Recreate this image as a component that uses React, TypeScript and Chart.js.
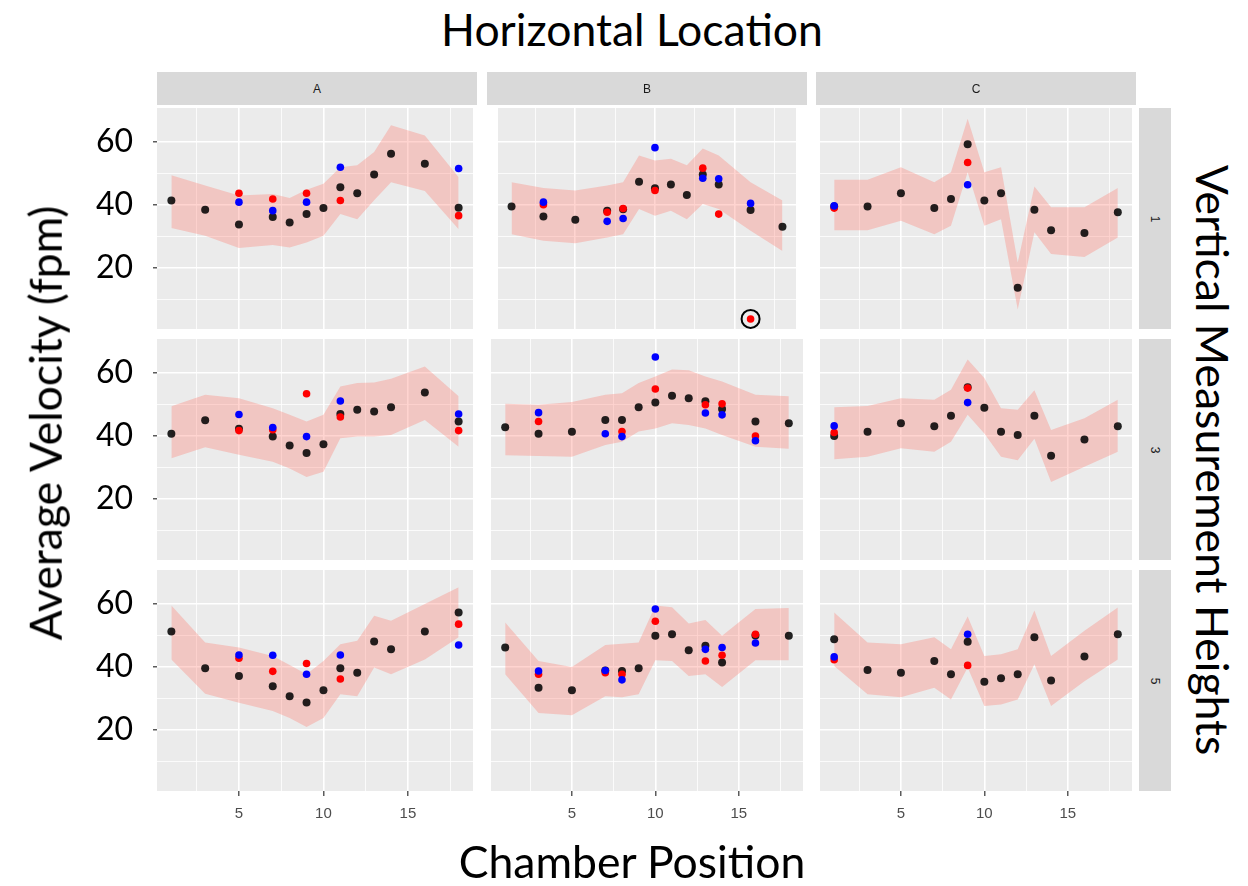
import React, { useEffect, useRef } from 'react';
import { Chart, registerables } from 'chart.js';

Chart.register(...registerables);

// ---------- data ----------
const positions = [1, 3, 5, 7, 8, 9, 10, 11, 12, 13, 14, 16, 18];
const columnLabels = ['A', 'B', 'C'];
const rowLabels = ['1', '3', '5'];
const yTickValues = [20, 40, 60];
const yMinorValues = [10, 30, 50];
const xTickValues = [5, 10, 15];
const xMinorValues = [2.5, 7.5, 12.5, 17.5];

// Height 1
const meanA1 = [41.4, 38.5, 33.8, 36.2, 34.4, 37.1, 39.0, 45.6, 43.7, 49.7, 56.3, 53.1, 39.1];
const lowA1 = [32.7, 30.2, 26.3, 27.3, 26.5, 28.1, 30.2, 37.1, 35.5, 41.5, 47.2, 44.4, 32.3];
const highA1 = [49.4, 46.2, 43.0, 43.5, 42.2, 44.8, 46.7, 52.0, 52.6, 56.8, 65.3, 62.1, 48.8];
const redA1 = [null, null, 43.7, 41.9, null, 43.7, null, 41.4, null, null, null, null, 36.6];
const blueA1 = [null, null, 40.9, 38.2, null, 40.9, null, 52.0, null, null, null, null, 51.6];

const meanB1 = [39.5, 36.3, 35.3, 38.2, 38.6, 47.4, 45.3, 46.5, 43.2, 49.7, 46.5, 38.4, 33.1];
const lowB1 = [30.7, 28.6, 27.8, 29.7, 30.7, 38.7, 36.6, 38.2, 35.5, 40.3, 38.7, 31.8, 25.4];
const highB1 = [47.2, 45.4, 44.6, 46.2, 47.2, 55.7, 54.1, 54.7, 52.6, 57.9, 55.7, 47.2, 41.4];
const redB1 = [null, 40.1, null, 37.7, 38.9, null, 44.6, null, null, 51.7, 37.1, 3.8, null];
const blueB1 = [null, 40.9, null, 34.8, 35.7, null, 58.2, null, null, 48.5, 48.3, 40.5, null];
const circledB1 = [null, null, null, null, null, null, null, null, null, null, null, 3.8, null];

const meanC1 = [39.5, 39.5, 43.7, 39.0, 41.9, 59.3, 41.4, 43.7, 13.7, 38.5, 32.0, 31.1, 37.7];
const lowC1 = [32.0, 32.0, 35.0, 30.7, 33.4, 50.4, 33.4, 35.5, 6.8, 31.3, 24.4, 23.5, 29.7];
const highC1 = [48.0, 48.0, 52.0, 47.2, 50.4, 67.4, 50.4, 52.0, 21.7, 45.9, 39.3, 39.3, 45.4];
const redC1 = [39.0, null, null, null, null, 53.5, null, null, null, null, null, null, null];
const blueC1 = [39.7, null, null, null, null, 46.4, null, null, null, null, null, null, null];

// Height 3
const meanA3 = [40.7, 45.0, 42.3, 39.8, 37.0, 34.6, 37.4, 47.0, 48.3, 47.8, 49.1, 53.8, 44.6];
const lowA3 = [32.9, 36.4, 34.0, 31.8, 29.7, 27.0, 28.6, 39.3, 39.8, 39.8, 40.3, 45.1, 36.6];
const highA3 = [49.4, 53.1, 52.0, 48.8, 46.7, 44.6, 46.7, 55.7, 56.8, 57.0, 58.2, 62.1, 52.6];
const redA3 = [null, null, 41.7, 42.0, null, 53.4, null, 46.0, null, null, null, null, 41.7];
const blueA3 = [null, null, 46.8, 42.7, null, 39.8, null, 51.1, null, null, null, null, 47.0];

const meanB3 = [42.8, 40.7, 41.3, 45.1, 45.1, 49.1, 50.6, 52.8, 52.0, 51.0, 48.6, 44.6, 44.0];
const lowB3 = [33.9, 33.6, 33.4, 37.1, 38.2, 41.4, 42.4, 44.0, 43.5, 42.4, 40.3, 36.6, 35.9];
const highB3 = [50.2, 49.9, 50.8, 53.1, 53.6, 56.8, 58.9, 61.1, 60.9, 58.9, 57.3, 53.1, 52.6];
const redB3 = [null, 44.6, null, null, 41.4, null, 54.9, null, null, 49.9, 50.2, 40.0, null];
const blueB3 = [null, 47.4, null, 40.7, 39.8, null, 65.1, null, null, 47.3, 46.7, 38.5, null];

const meanC3 = [40.0, 41.3, 44.0, 43.1, 46.4, 55.5, 49.0, 41.3, 40.3, 46.4, 33.7, 38.9, 43.1];
const lowC3 = [32.6, 33.4, 36.1, 35.0, 38.2, 46.7, 40.8, 33.4, 32.3, 39.1, 25.4, 30.2, 35.0];
const highC3 = [49.1, 49.5, 52.0, 51.5, 54.7, 64.3, 58.4, 48.8, 48.3, 54.5, 41.9, 45.6, 51.5];
const redC3 = [41.1, null, null, null, null, 55.2, null, null, null, null, null, null, null];
const blueC3 = [43.2, null, null, null, null, 50.6, null, null, null, null, null, null, null];

// Height 5
const meanA5 = [51.3, 39.6, 37.1, 33.9, 30.7, 28.7, 32.6, 39.6, 38.2, 48.1, 45.6, 51.3, 57.3];
const lowA5 = [42.4, 31.5, 28.6, 26.0, 23.8, 20.9, 23.8, 31.3, 30.7, 39.8, 37.7, 42.4, 49.4];
const highA5 = [59.5, 47.8, 46.2, 43.5, 40.6, 37.7, 41.9, 47.2, 48.3, 56.3, 54.7, 60.0, 65.3];
const redA5 = [null, null, 42.8, 38.6, null, 41.1, null, 36.2, null, null, null, null, 53.6];
const blueA5 = [null, null, 43.8, 43.7, null, 37.7, null, 43.8, null, null, null, null, 47.0];

const meanB5 = [46.2, 33.4, 32.6, 38.9, 38.7, 39.6, 49.9, 50.4, 45.3, 46.7, 41.4, 50.0, 49.9];
const lowB5 = [37.7, 25.4, 24.7, 30.7, 30.4, 31.3, 42.1, 41.9, 37.1, 37.7, 33.6, 42.1, 42.1];
const highB5 = [54.1, 41.9, 40.0, 47.0, 47.4, 47.8, 59.5, 59.0, 53.8, 54.9, 49.9, 58.4, 58.7];
const redB5 = [null, 37.7, null, 38.2, 37.7, null, 54.5, null, null, 41.9, 43.7, 50.4, null];
const blueB5 = [null, 38.7, null, 38.9, 35.9, null, 58.4, null, null, 45.6, 46.2, 47.6, null];

const meanC5 = [48.8, 39.0, 38.2, 41.9, 37.7, 48.0, 35.3, 36.4, 37.7, 49.4, 35.7, 43.3, 50.4];
const lowC5 = [40.3, 31.3, 30.4, 33.4, 29.7, 39.8, 27.6, 28.1, 29.7, 40.9, 27.6, 35.5, 42.4];
const highC5 = [57.3, 47.8, 47.2, 49.4, 45.6, 56.0, 43.5, 44.0, 45.6, 57.9, 43.5, 51.5, 58.9];
const redC5 = [42.3, null, null, null, null, 40.5, null, null, null, null, null, null, null];
const blueC5 = [43.2, null, null, null, null, 50.4, null, null, null, null, null, null, null];

type Num = number | null;
type Panel = { mean: Num[]; low: Num[]; high: Num[]; red: Num[]; blue: Num[]; circled?: Num[] };

const panelGrid: Panel[][] = [
  [
    { mean: meanA1, low: lowA1, high: highA1, red: redA1, blue: blueA1 },
    { mean: meanB1, low: lowB1, high: highB1, red: redB1, blue: blueB1, circled: circledB1 },
    { mean: meanC1, low: lowC1, high: highC1, red: redC1, blue: blueC1 },
  ],
  [
    { mean: meanA3, low: lowA3, high: highA3, red: redA3, blue: blueA3 },
    { mean: meanB3, low: lowB3, high: highB3, red: redB3, blue: blueB3 },
    { mean: meanC3, low: lowC3, high: highC3, red: redC3, blue: blueC3 },
  ],
  [
    { mean: meanA5, low: lowA5, high: highA5, red: redA5, blue: blueA5 },
    { mean: meanB5, low: lowB5, high: highB5, red: redB5, blue: blueB5 },
    { mean: meanC5, low: lowC5, high: highC5, red: redC5, blue: blueC5 },
  ],
];

// ---------- layout ----------
const COL_LEFT = [157, 487, 816];
const ROW_TOP = [108, 339, 570];
const PANEL_W = 320;
const PANEL_H = 221;
const Y_AXIS_W = 100;
const X_AXIS_H = 50;
const EDGE = 50;
const X_MIN = 0.15;
const X_MAX = 18.85;
const Y_MIN = 0.6;
const Y_MAX = 70.8;

const TITLE_FONT = 'Lato, "Open Sans", sans-serif';
const SMALL_FONT = '"Liberation Sans", Arial, sans-serif';
const RIBBON = 'rgba(255,112,98,0.30)';
const BLACK = 'rgba(0,0,0,0.86)';
const TITLE_SIZE = 44.5;

const panelBg = {
  id: 'panelBg',
  beforeDraw(chart: any) {
    const { ctx, chartArea: a } = chart;
    ctx.save();
    ctx.fillStyle = '#ebebeb';
    ctx.fillRect(a.left, a.top, a.right - a.left, a.bottom - a.top);
    ctx.restore();
  },
};

const toPoints = (arr: Num[]) =>
  positions
    .map((x, i) => (arr[i] == null ? null : { x, y: arr[i] as number }))
    .filter((p) => p !== null) as { x: number; y: number }[];

function PanelChart({ r, c, d }: { r: number; c: number; d: Panel }) {
  const ref = useRef<HTMLCanvasElement>(null);
  const left = c === 0;
  const bottom = r === 2;
  const canvasLeft = COL_LEFT[c] - (left ? Y_AXIS_W : 0);
  const canvasTop = ROW_TOP[r] - EDGE;
  const width = PANEL_W + (left ? Y_AXIS_W : 0);
  const height = EDGE + PANEL_H + (bottom ? X_AXIS_H : EDGE);

  useEffect(() => {
    if (!ref.current) return;
    const xGrid = [...xMinorValues, ...xTickValues].sort((a, b) => a - b);
    const yGrid = [...yMinorValues, ...yTickValues].sort((a, b) => a - b);
    const datasets: any[] = [
      {
        type: 'line',
        data: toPoints(d.low),
        borderWidth: 0,
        borderColor: 'rgba(0,0,0,0)',
        pointRadius: 0,
        fill: false,
        order: 5,
      },
      {
        type: 'line',
        data: toPoints(d.high),
        borderWidth: 0,
        borderColor: 'rgba(0,0,0,0)',
        backgroundColor: RIBBON,
        pointRadius: 0,
        fill: '-1',
        order: 5,
      },
      {
        type: 'scatter',
        data: toPoints(d.mean),
        pointRadius: 4,
        backgroundColor: BLACK,
        borderWidth: 0,
        order: 3,
      },
      {
        type: 'scatter',
        data: toPoints(d.red),
        pointRadius: 3.8,
        backgroundColor: '#ff0000',
        borderWidth: 0,
        order: 2,
      },
      {
        type: 'scatter',
        data: toPoints(d.blue),
        pointRadius: 3.8,
        backgroundColor: '#0000ff',
        borderWidth: 0,
        order: 1,
      },
    ];
    if (d.circled) {
      datasets.push({
        type: 'scatter',
        data: toPoints(d.circled),
        pointRadius: 9,
        backgroundColor: 'rgba(0,0,0,0)',
        borderColor: '#000000',
        borderWidth: 2,
        order: 0,
      });
    }
    const chart = new Chart(ref.current, {
      type: 'scatter',
      data: { datasets },
      plugins: [panelBg],
      options: {
        animation: false,
        responsive: false,
        events: [],
        layout: { padding: { top: EDGE, bottom: bottom ? 0 : EDGE, left: 0, right: 0 } },
        plugins: { legend: { display: false }, tooltip: { enabled: false } },
        scales: {
          x: {
            type: 'linear',
            min: X_MIN,
            max: X_MAX,
            afterBuildTicks: (s: any) => {
              s.ticks = xGrid.map((v) => ({ value: v }));
            },
            afterFit: (s: any) => {
              s.height = bottom ? X_AXIS_H : 0;
            },
            border: { display: false },
            grid: {
              color: '#ffffff',
              lineWidth: (ctx: any) => (xTickValues.includes(ctx.tick?.value) ? 1.6 : 0.8),
              drawTicks: bottom,
              tickLength: 5,
              tickWidth: 1.2,
              tickColor: (ctx: any) =>
                xTickValues.includes(ctx.tick?.value) ? '#333333' : 'rgba(0,0,0,0)',
            },
            ticks: {
              display: bottom,
              autoSkip: false,
              maxRotation: 0,
              minRotation: 0,
              padding: 9,
              color: '#4d4d4d',
              font: { family: SMALL_FONT, size: 15 },
              callback: (v: any) => (xTickValues.includes(v) ? String(v) : ''),
            },
          },
          y: {
            type: 'linear',
            min: Y_MIN,
            max: Y_MAX,
            afterBuildTicks: (s: any) => {
              s.ticks = yGrid.map((v) => ({ value: v }));
            },
            afterFit: (s: any) => {
              s.width = left ? Y_AXIS_W : 0;
            },
            border: { display: false },
            grid: {
              color: '#ffffff',
              lineWidth: (ctx: any) => (yTickValues.includes(ctx.tick?.value) ? 1.6 : 0.8),
              drawTicks: left,
              tickLength: 4,
              tickWidth: 1.2,
              tickColor: (ctx: any) =>
                yTickValues.includes(ctx.tick?.value) ? '#333333' : 'rgba(0,0,0,0)',
            },
            ticks: {
              display: left,
              autoSkip: false,
              padding: 20,
              color: '#000000',
              font: { family: TITLE_FONT, size: 32 },
              callback: (v: any) => (yTickValues.includes(v) ? String(v) : ''),
            },
          },
        },
      } as any,
    });
    return () => chart.destroy();
  }, [r, c, d]);

  return (
    <canvas
      ref={ref}
      width={width}
      height={height}
      style={{ position: 'absolute', left: canvasLeft, top: canvasTop, width, height }}
    />
  );
}

const stripStyle: React.CSSProperties = {
  position: 'absolute',
  background: '#d9d9d9',
  color: '#1a1a1a',
  fontFamily: SMALL_FONT,
  fontSize: 12,
  display: 'flex',
  alignItems: 'center',
  justifyContent: 'center',
};

const titleStyle: React.CSSProperties = {
  position: 'absolute',
  fontFamily: TITLE_FONT,
  fontSize: TITLE_SIZE,
  whiteSpace: 'nowrap',
  color: '#000',
  lineHeight: 1,
};

export default function App() {
  return (
    <div
      style={{
        position: 'absolute',
        left: 0,
        top: 0,
        width: 1248,
        height: 886,
        background: '#ffffff',
        overflow: 'hidden',
      }}
    >
      {panelGrid.map((row, r) =>
        row.map((d, c) => <PanelChart key={`${r}-${c}`} r={r} c={c} d={d} />)
      )}
      {columnLabels.map((lab, c) => (
        <div
          key={lab}
          style={{ ...stripStyle, left: COL_LEFT[c], top: 72, width: PANEL_W, height: 33 }}
        >
          {lab}
        </div>
      ))}
      {rowLabels.map((lab, r) => (
        <div
          key={lab}
          style={{ ...stripStyle, left: 1139, top: ROW_TOP[r], width: 32, height: PANEL_H }}
        >
          <span style={{ transform: 'rotate(90deg)', display: 'inline-block' }}>{lab}</span>
        </div>
      ))}
      <div style={{ ...titleStyle, left: 632, top: 29, transform: 'translate(-50%, -50%)' }}>
        Horizontal Location
      </div>
      <div style={{ ...titleStyle, left: 632, top: 861, transform: 'translate(-50%, -50%)' }}>
        Chamber Position
      </div>
      <div
        style={{
          ...titleStyle,
          left: 45,
          top: 423,
          transform: 'translate(-50%, -50%) rotate(-90deg)',
        }}
      >
        Average Velocity (fpm)
      </div>
      <div
        style={{
          ...titleStyle,
          left: 1213,
          top: 460,
          transform: 'translate(-50%, -50%) rotate(90deg)',
        }}
      >
        Vertical Measurement Heights
      </div>
    </div>
  );
}
